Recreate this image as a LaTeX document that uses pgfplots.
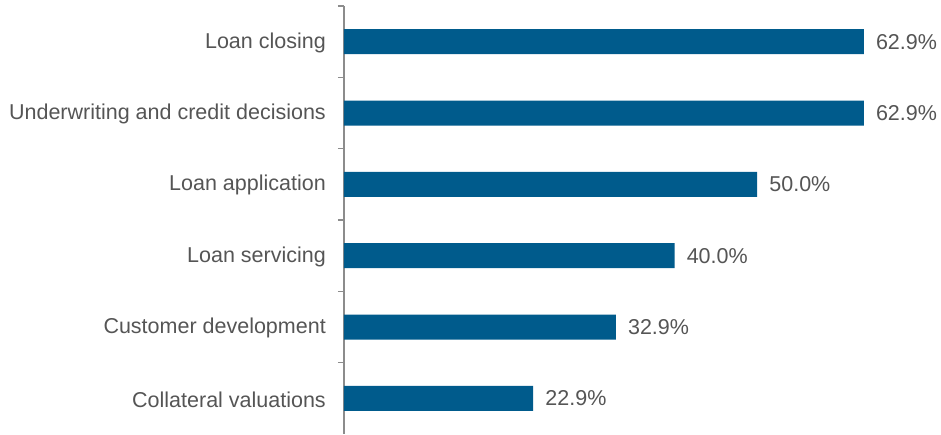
\documentclass[border=0pt]{standalone}
\usepackage{pgfplots}
\pgfplotsset{compat=1.18}
\usepackage{fontspec}
\setmainfont{Liberation Sans}
\definecolor{barblue}{RGB}{0,91,140}
\definecolor{txt}{RGB}{85,85,85}
\definecolor{axgray}{RGB}{140,140,140}
\begin{document}
\begin{tikzpicture}
\begin{axis}[
  scale only axis,
  width=595pt, height=428pt,
  xbar, bar width=25pt,
  xmin=0, xmax=72,
  ymin=-0.5, ymax=5.5,
  y dir=reverse,
  axis x line=none,
  axis y line*=left,
  y axis line style={draw=axgray, line width=1.3pt},
  ytick={0,...,5},
  yticklabels={Loan closing,Underwriting and credit decisions,Loan application,Loan servicing,Customer development,Collateral valuations},
  minor ytick={-0.5,0.5,...,4.5},
  major tick length=0pt,
  minor tick length=6pt,
  tick align=outside,
  minor tick style={draw=axgray, line width=1.3pt},
  /pgf/number format/assume math mode=true,
  yticklabel style={font=\fontsize{21.5}{24}\selectfont, text=txt, inner sep=0pt, xshift=-18pt, yshift=-1pt},
  nodes near coords={\pgfmathprintnumber[fixed,fixed zerofill,precision=1,assume math mode=true]{\pgfplotspointmeta}\%},
  nodes near coords style={font=\fontsize{21.5}{24}\selectfont, text=txt, anchor=west, inner sep=0pt, xshift=12pt},
  point meta=x,
  clip=false,
]
\addplot[fill=barblue, draw=none] coordinates {(62.9,0) (62.9,1) (50.0,2) (40.0,3) (32.9,4) (22.9,5)};
\end{axis}
\path[use as bounding box] ([xshift=-344pt]current axis.south west) rectangle ([xshift=2pt,yshift=6pt]current axis.north east);
\end{tikzpicture}
\end{document}
